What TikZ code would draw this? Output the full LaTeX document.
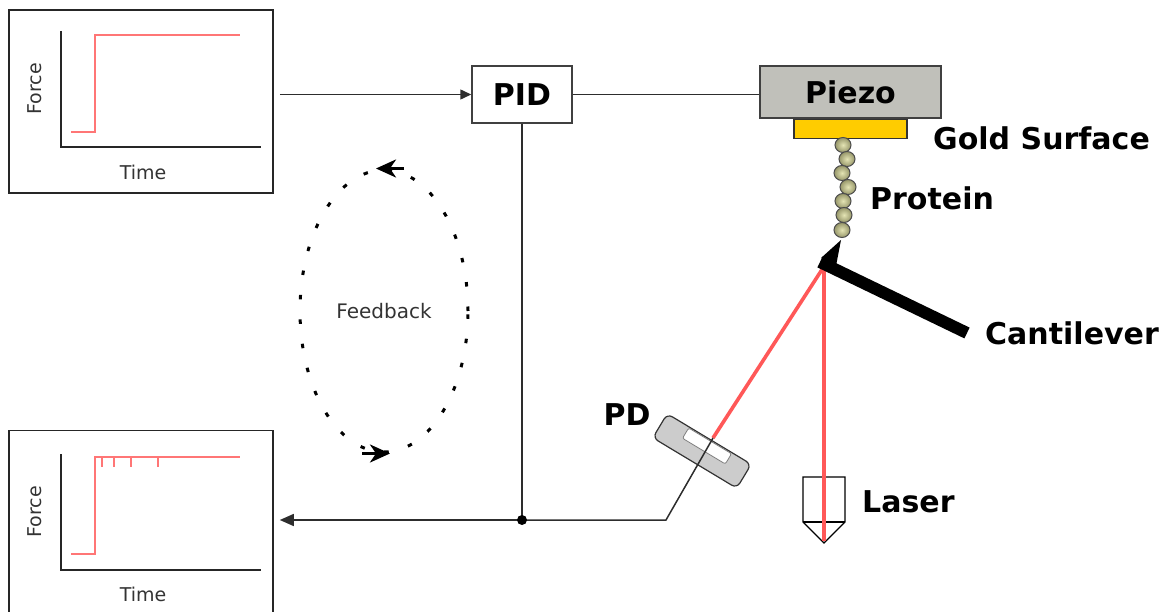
\documentclass[tikz,border=0pt]{standalone}
\usepackage{fontspec}
\setmainfont{DejaVu Sans}
\usetikzlibrary{arrows.meta, positioning, calc, shapes.geometric}

\definecolor{piezoGray}{RGB}{192,192,186}
\definecolor{goldYellow}{RGB}{255,204,0}
\definecolor{beadLight}{RGB}{228,228,180}
\definecolor{beadDark}{RGB}{150,150,105}
\definecolor{traceRed}{RGB}{255,118,118}
\definecolor{beamRed}{RGB}{255,88,88}
\definecolor{wireGray}{RGB}{45,45,45}

\begin{document}
\begin{tikzpicture}[
		x=1pt, y=-1pt,
		% Styles
		plotBox/.style={draw=black!85, line width=1.6pt, minimum width=264pt, minimum height=183pt, inner sep=0pt},
		axisLine/.style={draw=black!85, line width=1.8pt},
		forceTrace/.style={draw=traceRed, line width=1.8pt},
		axisLabel/.style={font=\fontsize{19}{22}\selectfont, text=black!80},
		ctrlBox/.style={draw=black!75, line width=1.5pt, fill=white, minimum width=100pt, minimum height=57pt, font=\fontsize{30}{34}\selectfont\bfseries},
		partLabel/.style={anchor=west, inner sep=0pt, font=\fontsize{30}{34}\selectfont\bfseries},
		wire/.style={draw=wireGray, line width=1.5pt},
		beam/.style={draw=beamRed, line width=3.6pt},
		loopShape/.style={ellipse, draw=black, line width=3pt, dash pattern=on 4.5pt off 20pt, minimum width=168pt, minimum height=282pt, font=\fontsize{20}{24}\selectfont, text=black!80},
		loopArrow/.style={line width=3pt, -{Stealth[length=20pt, width=18pt, inset=6pt]}}
		]
		\useasboundingbox (0,0) rectangle (1173,612);
		
		% =========================================================
		% 1. FORCE PLOTS
		% =========================================================
		\node[plotBox] (forceIn) at (141,101.5) {};
		\draw[axisLine] (61,31) -- (61,147) -- (261,147);
		\draw[forceTrace] (71,132) -- (95,132) -- (95,35) -- (240,35);
		\node[axisLabel, rotate=90] at (35,89) {Force};
		\node[axisLabel] at (143,172) {Time};
		
		\node[plotBox] (forceOut) at (141,522) {};
		\draw[axisLine] (61,454) -- (61,570) -- (261,570);
		\draw[forceTrace] (71,554) -- (95,554) -- (95,457) -- (240,457);
		\foreach \t in {102,114,131,158}
		\draw[forceTrace] (\t,457) -- (\t,467);
		\node[axisLabel, rotate=90] at (35,512) {Force};
		\node[axisLabel] at (143,594) {Time};
		
		% =========================================================
		% 2. CONTROLLER AND STAGE
		% =========================================================
		\node[ctrlBox] (pid) at (522,94.5) {PID};
		\node[ctrlBox, fill=piezoGray, minimum width=181pt, minimum height=52pt] (piezo) at (850.5,92) {Piezo};
		\node[draw=black!80, line width=1.2pt, fill=goldYellow, minimum width=113pt, minimum height=19pt, below=0pt of piezo] (gold) {};
		\node[partLabel] at (933,138) {Gold Surface};
		
		\draw[wire, -{Triangle[length=11pt, width=10pt]}] ([xshift=6pt]forceIn.east |- pid.west) -- (pid.west);
		\draw[wire] (pid.east) -- (pid.east -| piezo.west);
		
		% Protein chain
		\foreach \bx/\by in {843/145, 847/159, 842/173, 848/187, 843/201, 844/215, 842/230}
		\draw[black!70, line width=1pt, inner color=beadLight, outer color=beadDark] (\bx,\by) ellipse [x radius=8, y radius=7.5];
		\node[partLabel] at (870,198) {Protein};
		
		% =========================================================
		% 3. LASER, CANTILEVER AND DETECTOR
		% =========================================================
		\coordinate (tip) at (823,268);
		
		\node[draw=black!80, line width=1.2pt, fill=black!20, rounded corners=6pt, minimum width=98pt, minimum height=28pt, rotate=-31] (pd) at (702,451) {};
		\node[draw=black!50, line width=0.8pt, fill=white, rounded corners=2pt, minimum width=50pt, minimum height=12pt, rotate=-31] (pdWindow) at (707,446) {};
		\coordinate (hit) at (713,438);
		\node[font=\fontsize{30}{34}\selectfont\bfseries] at (627,415) {PD};
		
		\draw[line width=1.2pt, fill=white] (803,477) -- (845,477) -- (845,522) -- (824,543) -- (803,522) -- cycle;
		\draw[line width=1.2pt] (803,522) -- (845,522);
		\coordinate (laser) at (824,541);
		\node[partLabel] at (862,502) {Laser};
		
		\draw[beam] (tip) -- (hit);
		\draw[beam] (tip -| laser) -- (laser);
		
		\draw[line width=12pt] (820,262) -- (967,333);
		\fill (841,240) -- (821,258) -- (836,266) -- cycle;
		\node[partLabel] at (985,333) {Cantilever};
		
		% =========================================================
		% 4. SIGNAL PATH AND FEEDBACK
		% =========================================================
		\coordinate (bend) at (666,520);
		\coordinate (junction) at (pid.south |- bend);
		\draw[wire] (hit) -- (bend) -- (junction);
		\draw[wire] (pid.south) -- (junction);
		\draw[wire, -{Triangle[length=14pt, width=12pt]}] (junction) -- ([xshift=6pt]forceOut.east |- junction);
		\fill (junction) circle [radius=5];
		
		\node[loopShape] (feedback) at (384,311) {Feedback};
		\draw[loopArrow] ([xshift=20pt]feedback.north) -- ([xshift=-8pt]feedback.north);
		\draw[loopArrow] ([xshift=-22pt]feedback.south) -- ([xshift=6pt]feedback.south);
		
	\end{tikzpicture}
\end{document}
